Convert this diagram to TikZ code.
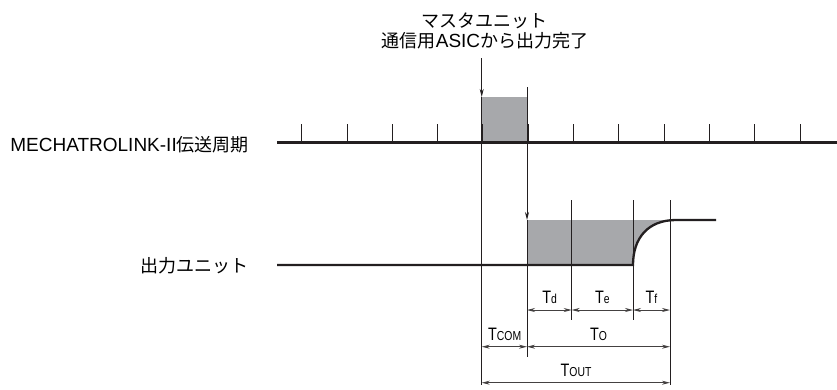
\documentclass[tikz,border=0pt]{standalone}
\usepackage{fontspec}
\setmainfont{Liberation Sans}
\newfontfamily\cjk{Noto Sans CJK JP}
\newfontfamily\condfont[FakeStretch=0.8]{Liberation Sans}
\usetikzlibrary{arrows.meta}
\definecolor{boxgray}{RGB}{167,168,171}
\definecolor{inkblack}{RGB}{35,31,32}
\newcommand{\tlabel}[1]{T{\fontsize{13}{13}\selectfont #1}}
\newcommand{\jp}[1]{{\cjk\fontsize{18}{20}\selectfont #1}}
\tikzset{
  thinline/.style={line width=0.9pt, draw=inkblack},
  signalline/.style={line width=2.3pt, draw=inkblack},
  tickline/.style={line width=0.9pt, draw=inkblack},
  dimline/.style={line width=0.8pt, draw=inkblack!85,
    {Stealth[length=8pt,width=4pt,inset=2.5pt]}-{Stealth[length=8pt,width=4pt,inset=2.5pt]}},
  marker/.style={line width=0.9pt, draw=inkblack, -{Stealth[length=8pt,width=4pt,inset=2.5pt]}},
  signame/.style={font=\fontsize{19}{20}\selectfont, inner sep=0pt},
  timename/.style={font=\condfont\fontsize{18}{18}\selectfont, inner sep=0pt, anchor=base}
}
\begin{document}
\begin{tikzpicture}[x=1pt,y=-1pt]
\useasboundingbox (0,0) rectangle (837,389);

% Marking master unit text
\node [signame] (mastertop) at (484.000000,21.000000) {\jp{マスタユニット}};%
\node [signame] (masterbot) at (485.000000,40.500000) {\jp{通信用}ASIC\jp{から出力完了}};%

% Marking signal names
\node [signame, anchor=base east] (busname) at (249.000000,151.500000) {MECHATROLINK-II\jp{伝送周期}};%
\node [signame, anchor=east] (outname) at (249.000000,266.000000) {\jp{出力ユニット}};%

% Coordinates of the time axis
\coordinate (busL) at (277.000000,142.500000);%
\coordinate (busR) at (837.000000,142.500000);%
\coordinate (outL) at (277.000000,265.000000);%
\coordinate (outK) at (633.000000,265.000000);%
\coordinate (outH) at (676.000000,220.000000);%
\coordinate (outR) at (716.000000,220.000000);%

% Drawing gray boxes
\fill [boxgray] (481.700000,97.000000) rectangle (527.000000,142.500000);%
\fill [boxgray] (527.000000,220.000000) -- (527.000000,265.000000) -- (outK)
  .. controls (633.000000,238.000000) and (648.000000,220.000000) .. (outH) -- cycle;%

% Drawing ticks of the transmission cycle
\foreach \k in {0,...,11}
  \draw [tickline] (301.700000+45.300000*\k,124.000000) -- (301.700000+45.300000*\k,142.500000);%

% Drawing line busL busR
\draw [signalline] (busL) -- (busR);%

% Drawing output signal
\draw [signalline] (outL) -- (outK)
  .. controls (633.000000,238.000000) and (648.000000,220.000000) .. (outH) -- (outR);%

% Drawing arrow from master unit
\coordinate (sendtop) at (481.700000,58.000000);%
\coordinate (sendbox) at (481.700000,97.000000);%
\coordinate (sendbot) at (481.700000,385.000000);%
\draw [marker] (sendtop) -- (sendbox);%
\draw [thinline] (sendbox) -- (sendbot);%

% Drawing arrow to output unit
\coordinate (recvtop) at (527.000000,87.000000);%
\coordinate (recvbox) at (527.000000,220.000000);%
\coordinate (recvbot) at (527.000000,357.000000);%
\draw [marker] (recvtop) -- (recvbox);%
\draw [thinline] (recvbox) -- (recvbot);%

% Drawing vertical lines d e f
\coordinate (dtop) at (571.700000,200.000000);%
\coordinate (dbot) at (571.700000,320.000000);%
\coordinate (etop) at (633.000000,200.000000);%
\coordinate (ebot) at (633.000000,320.000000);%
\coordinate (ftop) at (670.000000,200.000000);%
\coordinate (fbot) at (670.000000,385.000000);%
\draw [thinline] (dtop) -- (dbot);%
\draw [thinline] (etop) -- (ebot);%
\draw [thinline] (ftop) -- (fbot);%

% Drawing dimensions Td Te Tf
\draw [dimline] (527.000000,310.000000) -- (571.700000,310.000000);%
\draw [dimline] (571.700000,310.000000) -- (633.000000,310.000000);%
\draw [dimline] (633.000000,310.000000) -- (670.000000,310.000000);%
\node [timename] (td) at (549.700000,303.300000) {\tlabel{d}};%
\node [timename] (te) at (602.300000,303.300000) {\tlabel{e}};%
\node [timename] (tf) at (651.500000,303.300000) {\tlabel{f}};%

% Drawing dimensions Tcom To
\draw [dimline] (481.700000,346.700000) -- (527.000000,346.700000);%
\draw [dimline] (527.000000,346.700000) -- (670.000000,346.700000);%
\node [timename] (tcom) at (504.700000,340.000000) {\tlabel{COM}};%
\node [timename] (to) at (598.500000,340.000000) {\tlabel{O}};%

% Drawing dimension Tout
\draw [dimline] (481.700000,382.700000) -- (670.000000,382.700000);%
\node [timename] (tout) at (576.000000,376.000000) {\tlabel{OUT}};%
\end{tikzpicture}
\end{document}
